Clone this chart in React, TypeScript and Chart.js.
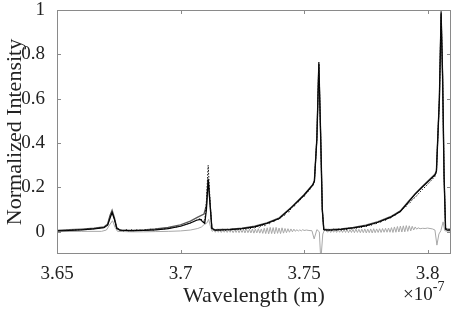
import React, { useEffect, useRef } from "react";
import { Chart, registerables } from "chart.js";

Chart.register(...registerables);

// Axis ticks (wavelength in units of 1e-7 m)
const xTicks = [3.65, 3.7, 3.75, 3.8];
const xTickLabels = ["3.65", "3.7", "3.75", "3.8"];
const yTicks = [0, 0.2, 0.4, 0.6, 0.8, 1];
const yTickLabels = ["0", "0.2", "0.4", "0.6", "0.8", "1"];
const xMin = 3.65;
const xMax = 3.8095;
const yMin = -0.1;
const yMax = 1;

// Fit (black solid)
const fitX = [3.650, 3.655, 3.660, 3.665, 3.669, 3.6705, 3.6715, 3.6723, 3.6732, 3.6742, 3.6755, 3.680, 3.685, 3.690, 3.695, 3.700, 3.704, 3.7065, 3.708, 3.709, 3.7098, 3.7105, 3.7112, 3.712, 3.7127, 3.714, 3.720, 3.725, 3.730, 3.735, 3.740, 3.745, 3.750, 3.7535, 3.7542, 3.7552, 3.756, 3.7567, 3.7574, 3.758, 3.760, 3.765, 3.770, 3.775, 3.780, 3.785, 3.789, 3.792, 3.795, 3.798, 3.801, 3.803, 3.8036, 3.8048, 3.8055, 3.8061, 3.8067, 3.8073, 3.808, 3.8095];
const fitY = [0.004, 0.006, 0.009, 0.013, 0.019, 0.03, 0.062, 0.087, 0.058, 0.015, 0.007, 0.005, 0.006, 0.009, 0.014, 0.025, 0.040, 0.052, 0.056, 0.045, 0.038, 0.10, 0.236, 0.12, 0.015, 0.007, 0.010, 0.014, 0.022, 0.038, 0.060, 0.110, 0.165, 0.210, 0.228, 0.42, 0.762, 0.45, 0.10, 0.010, 0.007, 0.011, 0.018, 0.027, 0.043, 0.065, 0.092, 0.130, 0.170, 0.203, 0.235, 0.256, 0.272, 0.60, 0.99, 0.70, 0.25, 0.012, 0.007, 0.007];

// Second model (dark grey solid)
const modelX = [3.650, 3.655, 3.660, 3.665, 3.669, 3.6705, 3.6715, 3.6723, 3.6732, 3.6742, 3.6755, 3.680, 3.685, 3.690, 3.695, 3.700, 3.704, 3.707, 3.7095, 3.7105, 3.7112, 3.712, 3.7127, 3.714, 3.720, 3.725, 3.730, 3.735, 3.740, 3.745, 3.750, 3.7535, 3.7542, 3.7552, 3.756, 3.7567, 3.7574, 3.758, 3.760, 3.765, 3.770, 3.775, 3.780, 3.785, 3.789, 3.792, 3.795, 3.798, 3.801, 3.803, 3.8036, 3.8048, 3.8055, 3.8061, 3.8067, 3.8073, 3.808, 3.8095];
const modelY = [0.006, 0.009, 0.012, 0.016, 0.022, 0.035, 0.075, 0.097, 0.065, 0.018, 0.008, 0.006, 0.008, 0.013, 0.020, 0.031, 0.048, 0.066, 0.080, 0.12, 0.24, 0.12, 0.016, 0.009, 0.012, 0.016, 0.025, 0.040, 0.063, 0.112, 0.167, 0.212, 0.230, 0.42, 0.755, 0.45, 0.10, 0.012, 0.010, 0.013, 0.020, 0.030, 0.046, 0.068, 0.094, 0.133, 0.172, 0.206, 0.238, 0.259, 0.275, 0.60, 0.98, 0.70, 0.25, 0.015, 0.012, 0.012];

// Measured (black dotted)
const measX = [3.650, 3.655, 3.660, 3.665, 3.669, 3.6705, 3.6715, 3.6723, 3.6732, 3.6742, 3.6755, 3.677, 3.678, 3.679, 3.680, 3.681, 3.682, 3.683, 3.684, 3.685, 3.686, 3.687, 3.688, 3.689, 3.690, 3.692, 3.695, 3.700, 3.704, 3.7065, 3.708, 3.709, 3.7098, 3.7105, 3.7112, 3.712, 3.7127, 3.714, 3.715, 3.716, 3.717, 3.718, 3.719, 3.720, 3.721, 3.722, 3.723, 3.724, 3.725, 3.726, 3.727, 3.728, 3.729, 3.730, 3.731, 3.732, 3.733, 3.734, 3.735, 3.736, 3.737, 3.738, 3.739, 3.740, 3.741, 3.742, 3.743, 3.744, 3.745, 3.746, 3.747, 3.748, 3.749, 3.750, 3.751, 3.752, 3.753, 3.7535, 3.7542, 3.7552, 3.756, 3.7567, 3.7574, 3.758, 3.759, 3.760, 3.761, 3.762, 3.763, 3.764, 3.765, 3.766, 3.767, 3.768, 3.769, 3.770, 3.771, 3.772, 3.773, 3.774, 3.775, 3.776, 3.777, 3.778, 3.779, 3.780, 3.781, 3.782, 3.783, 3.784, 3.785, 3.786, 3.787, 3.788, 3.789, 3.790, 3.791, 3.792, 3.793, 3.794, 3.795, 3.796, 3.797, 3.798, 3.799, 3.800, 3.801, 3.802, 3.803, 3.8036, 3.8048, 3.8055, 3.8061, 3.8067, 3.8073, 3.808, 3.8095];
const measY = [0.005, 0.007, 0.010, 0.014, 0.020, 0.032, 0.07, 0.092, 0.06, 0.016, 0.010, 0.004, 0.010, 0.004, 0.010, 0.004, 0.010, 0.005, 0.011, 0.005, 0.011, 0.006, 0.012, 0.007, 0.013, 0.011, 0.016, 0.025, 0.040, 0.052, 0.060, 0.05, 0.045, 0.14, 0.300, 0.13, 0.015, 0.004, 0.012, 0.004, 0.012, 0.005, 0.013, 0.006, 0.014, 0.007, 0.015, 0.008, 0.017, 0.010, 0.019, 0.012, 0.022, 0.016, 0.026, 0.020, 0.031, 0.026, 0.040, 0.036, 0.050, 0.046, 0.060, 0.056, 0.072, 0.072, 0.090, 0.090, 0.112, 0.114, 0.134, 0.136, 0.155, 0.158, 0.178, 0.184, 0.205, 0.206, 0.228, 0.42, 0.765, 0.45, 0.10, 0.010, 0.004, 0.012, 0.005, 0.013, 0.006, 0.014, 0.007, 0.015, 0.009, 0.017, 0.011, 0.020, 0.014, 0.023, 0.017, 0.027, 0.022, 0.032, 0.027, 0.038, 0.034, 0.046, 0.042, 0.054, 0.051, 0.064, 0.062, 0.076, 0.075, 0.090, 0.090, 0.106, 0.110, 0.126, 0.132, 0.148, 0.155, 0.168, 0.180, 0.192, 0.202, 0.214, 0.226, 0.238, 0.250, 0.272, 0.60, 0.995, 0.70, 0.25, 0.014, 0.010, 0.010];

// Residual (light grey)
const resX = [3.650, 3.660, 3.668, 3.670, 3.6715, 3.6725, 3.6735, 3.6745, 3.680, 3.685, 3.690, 3.695, 3.700, 3.704, 3.707, 3.7085, 3.7098, 3.7107, 3.7114, 3.7121, 3.7128,
  3.7135, 3.7141, 3.7147, 3.7153, 3.7159, 3.7165, 3.7171, 3.7177, 3.7183, 3.7189, 3.7195, 3.7201, 3.7207, 3.7213, 3.7219, 3.7225, 3.7231, 3.7237, 3.7243, 3.7249, 3.7255, 3.7261, 3.7267, 3.7273, 3.7279, 3.7285, 3.7291, 3.7297, 3.7303, 3.7309, 3.7315, 3.7321, 3.7327, 3.7333, 3.7339, 3.7345, 3.7351, 3.7357, 3.7363, 3.7369, 3.7375, 3.7381, 3.7387, 3.7393, 3.7399, 3.7405, 3.7411, 3.7417, 3.7423, 3.7429, 3.7435, 3.7441, 3.7447, 3.7453, 3.7459, 3.7465, 3.7471, 3.7477, 3.7483, 3.7489, 3.7495, 3.750, 3.751, 3.752, 3.7532, 3.7541, 3.7552, 3.7562, 3.7568, 3.7576, 3.7582,
  3.7590, 3.7596, 3.7602, 3.7608, 3.7614, 3.7620, 3.7626, 3.7632, 3.7638, 3.7644, 3.7650, 3.7656, 3.7662, 3.7668, 3.7674, 3.7680, 3.7686, 3.7692, 3.7698, 3.7704, 3.7710, 3.7716, 3.7722, 3.7728, 3.7734, 3.7740, 3.7746, 3.7752, 3.7758, 3.7764, 3.7770, 3.7776, 3.7782, 3.7788, 3.7794, 3.7800, 3.7806, 3.7812, 3.7818, 3.7824, 3.7830, 3.7836, 3.7842, 3.7848, 3.7854, 3.7860, 3.7866, 3.7872, 3.7878, 3.7884, 3.7890, 3.7896, 3.7902, 3.7908, 3.7914, 3.7920, 3.7926, 3.7932, 3.7938, 3.7944, 3.7950, 3.7956, 3.7962, 3.7970, 3.7980, 3.7990, 3.8000, 3.8010, 3.8020, 3.8030, 3.8038, 3.8046, 3.8054, 3.8063, 3.8070, 3.8080, 3.8095];
const resY = [0.001, 0.002, 0.002, 0.008, 0.035, 0.050, 0.02, 0.002, 0.000, 0.000, 0.001, 0.002, 0.004, 0.008, 0.015, 0.022, 0.035, 0.040, 0.056, 0.025, 0.002,
  0.008, -0.002, 0.009, -0.002, 0.009, -0.003, 0.008, -0.002, 0.009, -0.003, 0.010, -0.002, 0.009, -0.004, 0.010, -0.003, 0.011, -0.004, 0.010, -0.003, 0.011, -0.005, 0.012, -0.004, 0.011, -0.005, 0.013, -0.006, 0.012, -0.005, 0.014, -0.006, 0.013, -0.007, 0.016, -0.008, 0.018, -0.009, 0.020, -0.008, 0.019, -0.009, 0.020, -0.007, 0.017, -0.008, 0.018, -0.006, 0.015, -0.004, 0.014, -0.002, 0.013, 0.000, 0.012, 0.002, 0.010, 0.003, 0.009, 0.004, 0.010, 0.006, 0.008, 0.006, 0.005, -0.032, 0.010, 0.000, -0.13, -0.01, 0.006,
  0.009, -0.002, 0.008, -0.003, 0.009, -0.002, 0.008, -0.003, 0.010, -0.002, 0.009, -0.003, 0.010, -0.003, 0.011, -0.004, 0.010, -0.003, 0.011, -0.004, 0.012, -0.003, 0.011, -0.004, 0.012, -0.004, 0.013, -0.005, 0.012, -0.004, 0.013, -0.005, 0.014, -0.004, 0.013, -0.003, 0.014, -0.003, 0.015, -0.002, 0.016, -0.002, 0.017, -0.002, 0.019, -0.003, 0.022, -0.002, 0.024, -0.001, 0.026, -0.001, 0.027, 0.000, 0.028, 0.002, 0.027, 0.004, 0.025, 0.008, 0.022, 0.012, 0.018, 0.014, 0.016, 0.015, 0.017, 0.015, 0.013, 0.008, -0.06, -0.01, 0.005, 0.045, 0.005, 0.003, 0.003];

const FONT = '"Liberation Serif", "Times New Roman", serif';
const FRAME = "#8a8a8a";

const zip = (xs: number[], ys: number[]) =>
  xs.slice(0, Math.min(xs.length, ys.length)).map((x, i) => ({ x, y: ys[i] }));

const framePlugin = {
  id: "matlabFrame",
  afterDatasetsDraw(chart: any) {
    const { ctx, chartArea, scales } = chart;
    const { left, right, top, bottom } = chartArea;
    ctx.save();
    ctx.strokeStyle = FRAME;
    ctx.lineWidth = 1;
    ctx.strokeRect(left + 0.5, top + 0.5, right - left - 1, bottom - top - 1);
    const tl = 4;
    ctx.beginPath();
    scales.x.ticks.forEach((t: any) => {
      const px = Math.round(scales.x.getPixelForValue(t.value)) + 0.5;
      ctx.moveTo(px, bottom);
      ctx.lineTo(px, bottom - tl);
      ctx.moveTo(px, top);
      ctx.lineTo(px, top + tl);
    });
    scales.y.ticks.forEach((t: any) => {
      const py = Math.round(scales.y.getPixelForValue(t.value)) + 0.5;
      ctx.moveTo(left, py);
      ctx.lineTo(left + tl, py);
      ctx.moveTo(right, py);
      ctx.lineTo(right - tl, py);
    });
    ctx.stroke();
    ctx.fillStyle = "#222";
    ctx.textAlign = "left";
    ctx.textBaseline = "alphabetic";
    ctx.font = `19px ${FONT}`;
    const bx = right - 48;
    const by = 300;
    ctx.fillText("\u00d710", bx, by);
    const w = ctx.measureText("\u00d710").width;
    ctx.font = `14px ${FONT}`;
    ctx.fillText("-7", bx + w, by - 9);
    ctx.restore();
  },
};

export default function App() {
  const ref = useRef<HTMLCanvasElement | null>(null);
  useEffect(() => {
    if (!ref.current) return;
    const chart = new Chart(ref.current, {
      type: "line",
      data: {
        datasets: [
          {
            label: "Measured",
            data: zip(measX, measY),
            borderColor: "#111",
            borderWidth: 1,
            borderDash: [1.5, 1.5],
            pointRadius: 0,
            tension: 0,
          },
          {
            label: "Fit",
            data: zip(fitX, fitY),
            borderColor: "#000",
            borderWidth: 1.2,
            pointRadius: 0,
            tension: 0,
          },
          {
            label: "Model",
            data: zip(modelX, modelY),
            borderColor: "#5a5a5a",
            borderWidth: 1.4,
            pointRadius: 0,
            tension: 0,
          },
          {
            label: "Residual",
            data: zip(resX, resY),
            borderColor: "#a8a8a8",
            borderWidth: 1,
            pointRadius: 0,
            tension: 0,
          },
        ],
      },
      options: {
        animation: false,
        responsive: false,
        devicePixelRatio: 1,
        layout: { padding: { top: 10, right: 3, left: 0, bottom: 0 } },
        plugins: { legend: { display: false }, tooltip: { enabled: false } },
        scales: {
          x: {
            type: "linear",
            min: xMin,
            max: xMax,
            afterBuildTicks: (s: any) => {
              s.ticks = xTicks.map((v) => ({ value: v }));
            },
            afterFit: (s: any) => {
              s.height = 59;
              s.paddingLeft = 0;
              s.paddingRight = 0;
            },
            grid: { display: false, drawTicks: false },
            border: { display: false },
            ticks: {
              autoSkip: false,
              maxRotation: 0,
              padding: 9,
              color: "#222",
              font: { family: FONT, size: 19 },
              callback: (_v: any, i: number) => xTickLabels[i],
            },
            title: {
              display: true,
              text: "Wavelength (m)",
              color: "#222",
              font: { family: FONT, size: 22 },
              padding: { top: 0, bottom: 4 },
            },
          },
          y: {
            type: "linear",
            min: yMin,
            max: yMax,
            afterBuildTicks: (s: any) => {
              s.ticks = yTicks.map((v) => ({ value: v }));
            },
            afterFit: (s: any) => {
              s.width = 57;
              s.paddingTop = 0;
              s.paddingBottom = 0;
            },
            grid: { display: false, drawTicks: false },
            border: { display: false },
            ticks: {
              padding: 12,
              color: "#222",
              font: { family: FONT, size: 19 },
              callback: (_v: any, i: number) => yTickLabels[i],
            },
            title: {
              display: true,
              text: "Normalized Intensity",
              color: "#222",
              font: { family: FONT, size: 22 },
              padding: { top: 2, bottom: 0 },
            },
          },
        },
      },
      plugins: [framePlugin],
    });
    return () => chart.destroy();
  }, []);
  return (
    <div style={{ position: "fixed", left: 0, top: 0, width: 454, height: 313, background: "#fff" }}>
      <canvas ref={ref} width={454} height={313} />
    </div>
  );
}
